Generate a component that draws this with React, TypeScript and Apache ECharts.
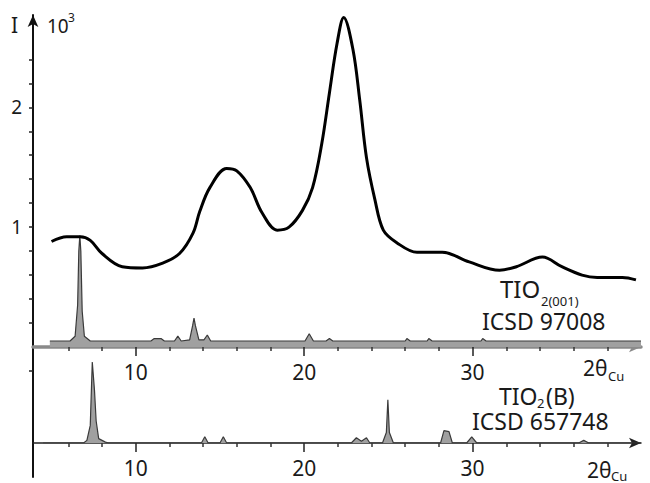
import React, { useEffect, useRef } from "react";
import * as echarts from "echarts";

// Broad measured pattern (intensity in 10^3)
const measuredTheta = [5.0, 5.9, 6.7, 7.3, 8.0, 9.2, 10.4, 11.6, 12.6, 13.4, 13.8, 14.4, 15.4, 16.0, 16.8, 17.5, 18.4, 19.1, 19.9, 20.5, 21.05, 21.5, 21.95, 22.35, 22.9, 23.3, 23.7, 24.2, 24.7, 25.5, 26.7, 28.2, 29.8, 31.6, 32.6, 34.15, 35.3, 36.5, 37.4, 38.9, 39.7];
const measuredI = [0.88, 0.92, 0.92, 0.89, 0.78, 0.67, 0.66, 0.7, 0.78, 0.95, 1.13, 1.33, 1.49, 1.47, 1.33, 1.12, 0.975, 1.0, 1.14, 1.33, 1.7, 2.12, 2.53, 2.75, 2.48, 2.06, 1.58, 1.23, 0.975, 0.87, 0.79, 0.79, 0.71, 0.64, 0.67, 0.75, 0.67, 0.6, 0.58, 0.58, 0.56];

// Reference pattern TiO2(001) ICSD 97008
const ref001Theta = [4.9, 6.1, 6.4, 6.55, 6.62, 6.68, 6.74, 6.82, 6.95, 7.3, 10.9, 11.1, 11.5, 11.7, 12.3, 12.5, 12.7, 13.2, 13.38, 13.46, 13.54, 13.75, 14.05, 14.25, 14.45, 20.05, 20.3, 20.55, 21.3, 21.5, 21.7, 26.0, 26.1, 26.3, 27.3, 27.4, 27.6, 30.5, 30.6, 30.8, 40.0];
const ref001I = [0.05, 0.05, 0.09, 0.35, 0.8, 0.93, 0.8, 0.3, 0.09, 0.05, 0.05, 0.07, 0.07, 0.05, 0.05, 0.09, 0.05, 0.06, 0.18, 0.24, 0.18, 0.06, 0.06, 0.1, 0.05, 0.05, 0.11, 0.05, 0.05, 0.07, 0.05, 0.05, 0.07, 0.05, 0.05, 0.07, 0.05, 0.05, 0.07, 0.05, 0.05];

// Reference pattern TiO2(B) ICSD 657748
const refBTheta = [4.5, 6.9, 7.1, 7.3, 7.42, 7.55, 7.65, 7.8, 8.2, 8.4, 13.9, 14.1, 14.3, 15.0, 15.2, 15.4, 22.8, 23.1, 23.4, 23.7, 23.9, 24.65, 24.88, 24.97, 25.06, 25.3, 28.1, 28.3, 28.6, 28.8, 29.65, 29.95, 30.25, 36.3, 36.6, 36.9, 40.0];
const refBI = [0, 0, 0.03, 0.2, 0.92, 0.6, 0.25, 0.05, 0.01, 0, 0, 0.07, 0, 0, 0.07, 0, 0, 0.06, 0.02, 0.06, 0, 0, 0.12, 0.49, 0.12, 0, 0, 0.14, 0.13, 0, 0, 0.07, 0, 0, 0.03, 0, 0];

const minorTicks = [6, 8, 12, 14, 16, 18, 22, 24, 26, 28, 32, 34, 36, 38];
const majorTicks = [10, 20, 30];
const yTicks = [0.2, 0.4, 0.6, 0.8, 1.0, 1.2, 1.4, 1.6, 1.8, 2.0, 2.2, 2.4];
const yLabels = [1, 2];

const FONT = "Noto Sans";
const TXT = "#1a1a1a";

export default function App() {
  const ref = useRef<HTMLDivElement>(null);
  useEffect(() => {
    if (!ref.current) return;
    const chart = echarts.init(ref.current, undefined, { renderer: "svg" });
    const xMin = 3.9, xMax = 40;
    const topMax = 2.77;
    const botMin = -0.386, botMax = 1.09;
    const gridTop = { left: 33, right: 9, top: 15, bottom: 136, containLabel: false, outerBoundsMode: "none" };
    const gridBot = { left: 33, right: 9, top: 347, bottom: 6, containLabel: false, outerBoundsMode: "none" };
    const gridBotPlot = { left: 33, right: 9, top: 347, bottom: 40, containLabel: false, outerBoundsMode: "none" };
    const hiddenY = (min: number, max: number, g: number) => ({
      type: "value", gridIndex: g, min, max, show: false, splitLine: { show: false },
    });
    const baseX = (g: number) => ({
      type: "value", gridIndex: g, min: xMin, max: xMax, splitLine: { show: false },
    });
    const zip = (a: number[], b: number[]) => a.map((v, i) => [v, b[i]]);
    const txt = (text: string, left: number, top: number, size: number) => ({
      type: "text", left, top, style: { text, fontSize: size, fontFamily: FONT, fill: TXT, lineHeight: size },
    });
    chart.setOption({
      animation: false,
      grid: [gridTop, gridTop, gridBot, gridBotPlot],
      xAxis: [
        {
          ...baseX(0),
          axisLine: { show: true, onZero: true, lineStyle: { color: "#8a8a8a", width: 3.5 }, symbol: ["none", "arrow"], symbolSize: [8, 12] },
          axisTick: { show: true, customValues: minorTicks, length: 4, lineStyle: { color: "#333", width: 1.5 } },
          axisLabel: { show: false },
        },
        {
          ...baseX(1),
          axisLine: { show: false },
          axisTick: { show: true, customValues: majorTicks, length: 9, lineStyle: { color: "#222", width: 1.5 } },
          axisLabel: { show: true, customValues: majorTicks, margin: 14, fontSize: 21, fontFamily: FONT, color: TXT },
        },
        {
          ...baseX(2),
          axisLine: { show: true, onZero: true, lineStyle: { color: "#222", width: 1.5 }, symbol: ["none", "arrow"], symbolSize: [8, 12] },
          axisTick: { show: true, customValues: minorTicks, length: 4, lineStyle: { color: "#333", width: 1.5 } },
          axisLabel: { show: false },
        },
        {
          ...baseX(3),
          axisLine: { show: false },
          axisTick: { show: true, customValues: majorTicks, length: 9, lineStyle: { color: "#222", width: 1.5 } },
          axisLabel: { show: true, customValues: majorTicks, margin: 14, fontSize: 21, fontFamily: FONT, color: TXT },
        },
      ],
      yAxis: [
        {
          type: "value", gridIndex: 0, min: 0, max: topMax, splitLine: { show: false },
          axisLine: { show: true, lineStyle: { color: "#111", width: 2 }, symbol: ["none", "arrow"], symbolSize: [8, 12] },
          axisTick: { show: true, customValues: yTicks, length: 4, lineStyle: { color: "#222", width: 1.5 } },
          axisLabel: { show: true, customValues: yLabels, margin: 11, fontSize: 19, fontFamily: FONT, color: TXT },
        },
        hiddenY(0, topMax, 1),
        {
          type: "value", gridIndex: 2, min: botMin, max: botMax, splitLine: { show: false },
          axisLine: { show: true, lineStyle: { color: "#111", width: 2 } },
          axisTick: { show: true, customValues: [0.82], length: 4, lineStyle: { color: "#222", width: 1.5 } },
          axisLabel: { show: false },
        },
        hiddenY(0, botMax, 3),
      ],
      series: [
        {
          type: "line", xAxisIndex: 1, yAxisIndex: 1,
          data: zip(ref001Theta, ref001I), showSymbol: false, symbol: "none",
          lineStyle: { color: "#3a3a3a", width: 1.2 },
          areaStyle: { color: "#a0a0a0", opacity: 1 },
          z: 3,
        },
        {
          type: "line", xAxisIndex: 1, yAxisIndex: 1,
          data: zip(measuredTheta, measuredI), smooth: 0.35, showSymbol: false, symbol: "none",
          lineStyle: { color: "#000", width: 3 },
          z: 4,
        },
        {
          type: "line", xAxisIndex: 3, yAxisIndex: 3,
          data: zip(refBTheta, refBI), showSymbol: false, symbol: "none",
          lineStyle: { color: "#3a3a3a", width: 1.2 },
          areaStyle: { color: "#a0a0a0", opacity: 1 },
          z: 3,
        },
      ],
      graphic: [
        txt("I", 11, 14, 21),
        txt("10", 47, 16, 19),
        txt("3", 68, 11, 12),
        txt("TIO", 500, 276, 24),
        txt("2(001)", 541, 294, 13),
        txt("ICSD 97008", 482, 309, 23),
        txt("2θ", 583, 357, 21),
        txt("Cu", 608, 369, 13),
        txt("TIO", 499, 384, 23),
        txt("2", 537, 396, 13),
        txt("(B)", 546, 384, 23),
        txt("ICSD 657748", 472, 409, 23),
        txt("2θ", 587, 459, 21),
        txt("Cu", 611, 469, 13),
      ],
    });
    return () => chart.dispose();
  }, []);
  return <div ref={ref} style={{ width: 650, height: 483, position: "fixed", left: 0, top: 0, background: "#fff" }} />;
}
